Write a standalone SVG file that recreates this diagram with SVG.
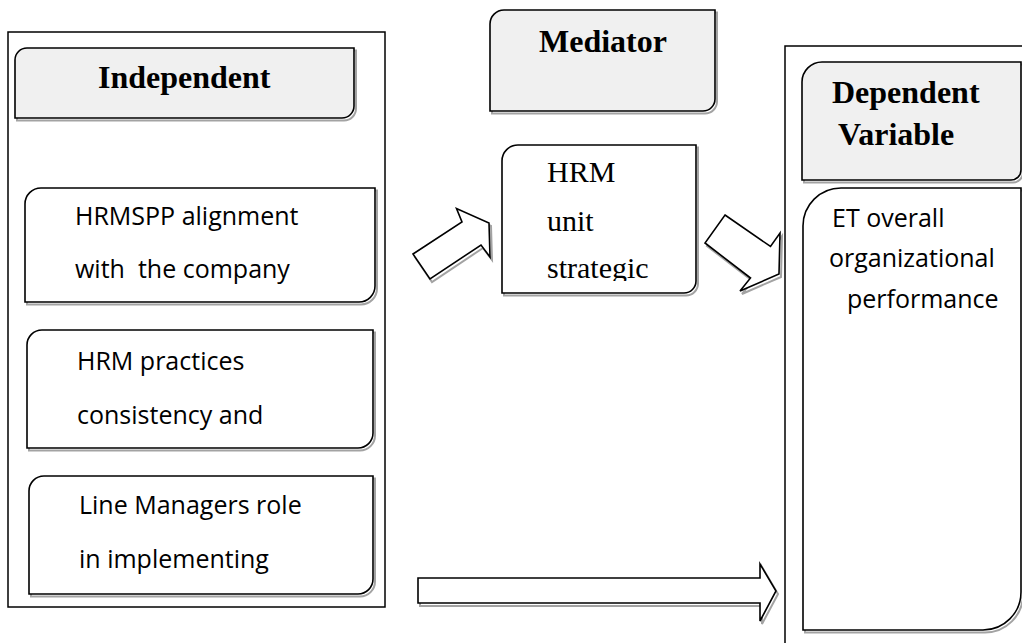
<svg xmlns="http://www.w3.org/2000/svg" width="1022" height="643" viewBox="0 0 1022 643">
  <style>
    .frame { fill: #ffffff; stroke: #000000; stroke-width: 1.5; }
    .box { fill: #ffffff; stroke: #000000; stroke-width: 1.6; }
    .head { fill: #f0f0f0; stroke: #000000; stroke-width: 1.6; }
    .shadow { fill: none; stroke: #a3a3a3; stroke-width: 2; }
    .arrow { fill: #ffffff; stroke: #000000; stroke-width: 1.6; stroke-linejoin: miter; }
    .title { font-family: "Liberation Serif", "Times New Roman", serif; font-weight: bold; font-size: 32px; fill: #000000; }
    .serif { font-family: "Liberation Serif", "Times New Roman", serif; font-size: 30px; fill: #000000; }
    .sans { font-family: "Open Sans", "Noto Sans", sans-serif; font-size: 25px; fill: #000000; white-space: pre; }
  </style>
  <defs>
    <clipPath id="mediatorClip">
      <rect x="503" y="146" width="192" height="135"/>
    </clipPath>
  </defs>

  <rect width="1022" height="643" fill="#ffffff"/>

  <!-- Independent variables column -->
  <g id="independent">
    <rect class="frame" x="8" y="32" width="377" height="575"/>
    <g id="independent-header">
      <path class="shadow" transform="translate(2,2.5)" d="M15,60 A12,12 0 0 1 27,48 H354 V106 A12,12 0 0 1 342,118 H15 Z"/>
      <path class="head" d="M15,60 A12,12 0 0 1 27,48 H354 V106 A12,12 0 0 1 342,118 H15 Z"/>
      <text class="title" x="98" y="88">Independent</text>
    </g>
    <g id="hrmspp">
      <path class="shadow" transform="translate(2,2.5)" d="M25,204 A16,16 0 0 1 41,188 H375 V286 A16,16 0 0 1 359,302 H25 Z"/>
      <path class="box" d="M25,204 A16,16 0 0 1 41,188 H375 V286 A16,16 0 0 1 359,302 H25 Z"/>
      <text class="sans" x="75" y="225">HRMSPP alignment</text>
      <text class="sans" x="75" y="278">with  the company</text>
    </g>
    <g id="hrm-practices">
      <path class="shadow" transform="translate(2,2.5)" d="M27,345 A15,15 0 0 1 42,330 H373 V433 A15,15 0 0 1 358,448 H27 Z"/>
      <path class="box" d="M27,345 A15,15 0 0 1 42,330 H373 V433 A15,15 0 0 1 358,448 H27 Z"/>
      <text class="sans" x="77" y="370">HRM practices</text>
      <text class="sans" x="77" y="424">consistency and</text>
    </g>
    <g id="line-managers">
      <path class="shadow" transform="translate(2,2.5)" d="M29,491 A15,15 0 0 1 44,476 H373 V579 A15,15 0 0 1 358,594 H29 Z"/>
      <path class="box" d="M29,491 A15,15 0 0 1 44,476 H373 V579 A15,15 0 0 1 358,594 H29 Z"/>
      <text class="sans" x="79" y="514">Line Managers role</text>
      <text class="sans" x="79" y="568">in implementing</text>
    </g>
  </g>

  <!-- Mediator -->
  <g id="mediator-header">
    <path class="shadow" transform="translate(2,2.5)" d="M490,24 A14,14 0 0 1 504,10 H715 V99 A12,12 0 0 1 703,111 H490 Z"/>
    <path class="head" d="M490,24 A14,14 0 0 1 504,10 H715 V99 A12,12 0 0 1 703,111 H490 Z"/>
    <text class="title" x="539" y="52">Mediator</text>
  </g>
  <g id="mediator">
    <path class="shadow" transform="translate(2,2.5)" d="M502,161 A16,16 0 0 1 518,145 H696 V281 A12,12 0 0 1 684,293 H502 Z"/>
    <path class="box" d="M502,161 A16,16 0 0 1 518,145 H696 V281 A12,12 0 0 1 684,293 H502 Z"/>
    <g clip-path="url(#mediatorClip)">
      <text class="serif" x="547" y="182">HRM</text>
      <text class="serif" x="547" y="231">unit</text>
      <text class="serif" x="547" y="278">strategic</text>
    </g>
  </g>

  <!-- Dependent variable column -->
  <g id="dependent">
    <rect class="frame" x="785" y="46" width="260" height="620"/>
    <g id="dependent-header">
      <path class="shadow" transform="translate(2,2.5)" d="M802,82 A20,20 0 0 1 822,62 H1021 V170 A10,10 0 0 1 1011,180 H802 Z"/>
      <path class="head" d="M802,82 A20,20 0 0 1 822,62 H1021 V170 A10,10 0 0 1 1011,180 H802 Z"/>
      <text class="title" x="832" y="103">Dependent</text>
      <text class="title" x="838" y="145">Variable</text>
    </g>
    <g id="performance">
      <path class="shadow" transform="translate(2,2.5)" d="M803,226 A38,38 0 0 1 841,188 H1021 V592 A38,38 0 0 1 983,630 H803 Z"/>
      <path class="box" d="M803,226 A38,38 0 0 1 841,188 H1021 V592 A38,38 0 0 1 983,630 H803 Z"/>
      <text class="sans" x="832" y="227">ET overall</text>
      <text class="sans" x="829" y="267">organizational</text>
      <text class="sans" x="847" y="308">performance</text>
    </g>
  </g>

  <!-- Block arrows -->
  <g id="connectors">
    <g id="arrow-to-mediator">
      <path class="shadow" transform="translate(2,3)" d="M413,254 L462,222 L456.5,208.5 L489,223 L490,257 L481,245 L430,279 Z"/>
      <path class="arrow" d="M413,254 L462,222 L456.5,208.5 L489,223 L490,257 L481,245 L430,279 Z"/>
    </g>
    <g id="arrow-to-dependent">
      <path class="shadow" transform="translate(2,3)" d="M725,215 L770.5,246.5 L780,233 L779,274 L740,291 L750.5,278 L705,243 Z"/>
      <path class="arrow" d="M725,215 L770.5,246.5 L780,233 L779,274 L740,291 L750.5,278 L705,243 Z"/>
    </g>
    <g id="arrow-direct">
      <path class="shadow" transform="translate(2,3)" d="M418,578 H760 V564 L776,591 L760,621 V603 H418 Z"/>
      <path class="arrow" d="M418,578 H760 V564 L776,591 L760,621 V603 H418 Z"/>
    </g>
  </g>
</svg>
